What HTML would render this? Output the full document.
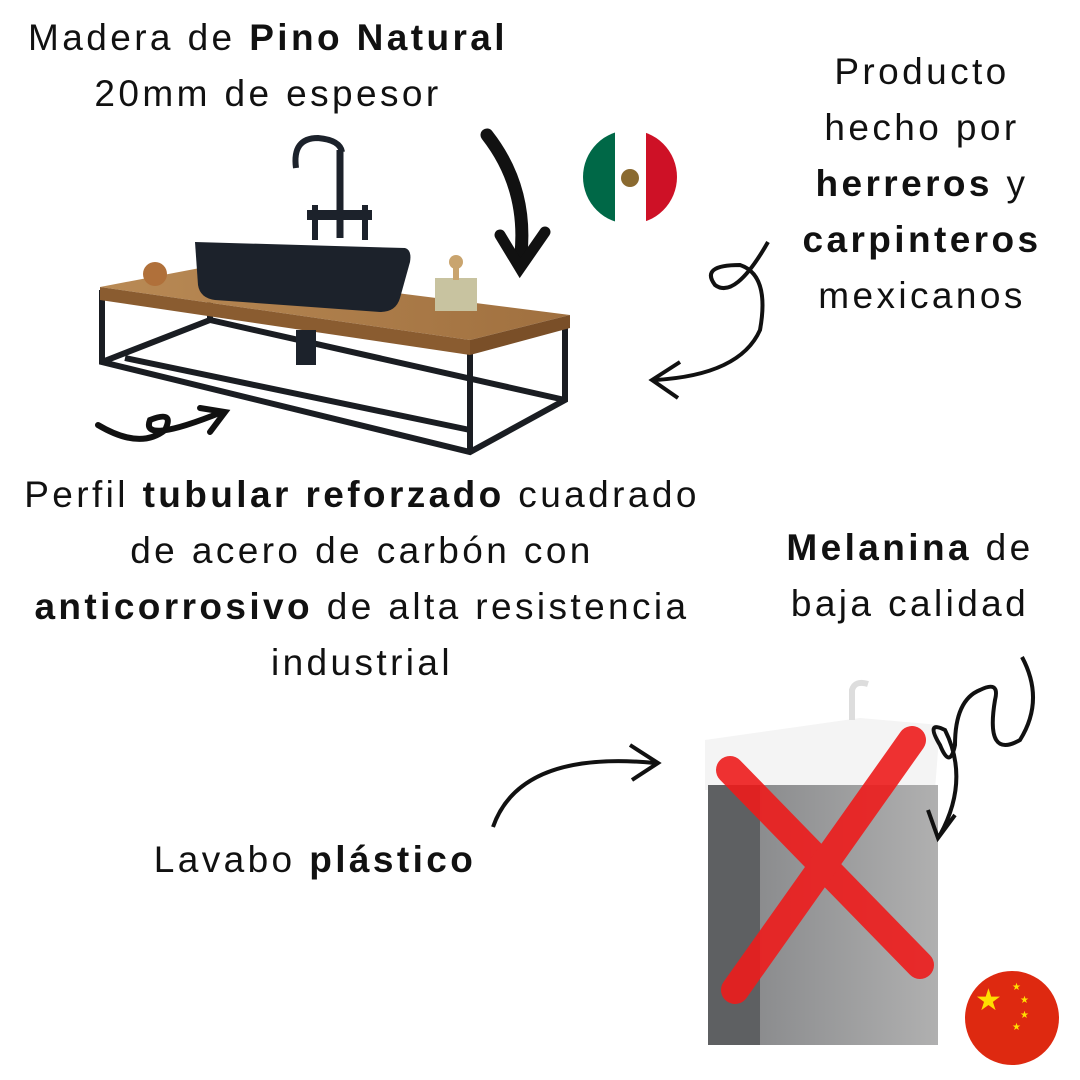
<!DOCTYPE html>
<html><head><meta charset="utf-8"><style>
body{margin:0;width:1080px;height:1080px;background:#fff;position:relative;overflow:hidden;font-family:"Liberation Sans",sans-serif;color:#111}
.t{position:absolute;font-size:37px;line-height:56px;text-align:center;white-space:nowrap;letter-spacing:3.4px}
b{font-weight:bold}
svg{position:absolute;left:0;top:0}
</style></head><body>
<svg width="1080" height="1080" viewBox="0 0 1080 1080">
<defs>
<clipPath id="mx"><circle cx="630" cy="177" r="47"/></clipPath>
<clipPath id="cn"><circle cx="1012" cy="1018" r="47"/></clipPath>
<linearGradient id="wood" x1="0" x2="1"><stop offset="0" stop-color="#b98a55"/><stop offset="1" stop-color="#a0703f"/></linearGradient>
<linearGradient id="cab" x1="0" x2="1"><stop offset="0" stop-color="#6f7072"/><stop offset="0.2" stop-color="#8a8b8d"/><stop offset="1" stop-color="#b0b0b0"/></linearGradient>
</defs>
<g stroke="#1a1d22" stroke-width="6" fill="none">
<path d="M102 290 L102 362 L470 452 L565 400 L565 318"/>
<path d="M102 362 L210 320 L565 400"/>
<path d="M470 452 L470 345"/>
<path d="M210 320 L210 295"/>
<path d="M125 358 L470 430"/>
</g>
<polygon points="100,287 200,268 570,315 470,340" fill="url(#wood)"/>
<polygon points="100,287 470,340 470,355 100,300" fill="#8a5c30"/>
<polygon points="470,340 570,315 570,328 470,355" fill="#7a4f28"/>
<path d="M195 242 L405 248 Q412 250 410 262 L400 298 Q396 312 380 312 L215 300 Q200 298 198 285 Z" fill="#1c222b"/>
<path d="M340 238 L340 150" stroke="#1c222b" stroke-width="7" fill="none"/>
<path d="M296 168 Q292 138 318 138 Q340 140 342 152" stroke="#1c222b" stroke-width="6" fill="none"/>
<rect x="307" y="210" width="65" height="10" fill="#1c222b"/>
<rect x="312" y="205" width="6" height="35" fill="#1c222b"/>
<rect x="362" y="205" width="6" height="35" fill="#1c222b"/>
<circle cx="155" cy="274" r="12" fill="#b0703a"/>
<rect x="435" y="278" width="42" height="33" fill="#c8c3a0"/>
<circle cx="456" cy="262" r="7" fill="#c9a46e"/>
<rect x="453" y="262" width="6" height="18" fill="#c9a46e"/>
<rect x="296" y="330" width="20" height="35" fill="#1c222b"/>
<g clip-path="url(#mx)"><rect x="583" y="130" width="32" height="94" fill="#006847"/><rect x="615" y="130" width="31" height="94" fill="#fff"/><rect x="646" y="130" width="31" height="94" fill="#ce1126"/><circle cx="630" cy="178" r="9" fill="#8a6a30"/></g>
<g clip-path="url(#cn)"><rect x="960" y="965" width="110" height="110" fill="#de2910"/>
<text x="975" y="1010" font-size="30" fill="#ffde00" font-family="DejaVu Sans">★</text>
<text x="1012" y="990" font-size="10" fill="#ffde00" font-family="DejaVu Sans">★</text>
<text x="1020" y="1003" font-size="10" fill="#ffde00" font-family="DejaVu Sans">★</text>
<text x="1020" y="1018" font-size="10" fill="#ffde00" font-family="DejaVu Sans">★</text>
<text x="1012" y="1030" font-size="10" fill="#ffde00" font-family="DejaVu Sans">★</text></g>
<polygon points="705,740 860,718 940,725 935,790 705,790" fill="#f4f4f4"/>
<rect x="708" y="785" width="230" height="260" fill="url(#cab)"/>
<rect x="708" y="785" width="52" height="260" fill="#5e6062"/>
<path d="M852 720 L852 690 Q855 680 868 684" stroke="#ddd" stroke-width="6" fill="none"/>
<g stroke="#ee1c1c" stroke-width="28" stroke-linecap="round" opacity="0.9">
<path d="M730 770 L920 965"/><path d="M912 740 L735 990"/></g>
<path d="M487 135 Q530 190 520 262" stroke="#111" stroke-width="13" fill="none" stroke-linecap="round"/>
<path d="M500 235 L520 268 L545 232" stroke="#111" stroke-width="11" fill="none" stroke-linecap="round"/>
<path d="M768 242 Q735 300 715 285 Q700 265 740 265 Q770 275 760 330 Q740 375 655 380" stroke="#111" stroke-width="4" fill="none"/>
<path d="M680 362 L652 380 L678 398" stroke="#111" stroke-width="4" fill="none"/>
<path d="M98 425 Q140 450 165 430 Q175 410 150 420 Q140 445 222 412" stroke="#111" stroke-width="6" fill="none" stroke-linecap="round"/>
<path d="M200 408 L225 412 L210 432" stroke="#111" stroke-width="6" fill="none" stroke-linecap="round"/>
<path d="M493 827 Q520 750 655 763" stroke="#111" stroke-width="4" fill="none"/>
<path d="M630 745 L658 763 L632 780" stroke="#111" stroke-width="4" fill="none"/>
<path d="M1022 657 Q1045 700 1020 740 Q985 760 995 700 Q1000 680 980 690 Q955 700 955 745 Q950 770 940 745 Q925 720 945 730 Q970 780 940 835" stroke="#111" stroke-width="4" fill="none"/>
<path d="M928 810 L938 838 L955 815" stroke="#111" stroke-width="4" fill="none"/>
</svg>
<div class="t" style="left:0;width:536px;top:10px">Madera de <b>Pino Natural</b><br>20mm de espesor</div>
<div class="t" style="left:780px;width:284px;top:44px">Producto<br>hecho por<br><b>herreros</b> y<br><b>carpinteros</b><br>mexicanos</div>
<div class="t" style="left:0;width:724px;top:467px">Perfil <b>tubular reforzado</b> cuadrado<br>de acero de carbón con<br><b>anticorrosivo</b> de alta resistencia<br>industrial</div>
<div class="t" style="left:770px;width:280px;top:520px"><b>Melanina</b> de<br>baja calidad</div>
<div class="t" style="left:140px;width:350px;top:832px">Lavabo <b>plástico</b></div>
</body></html>
